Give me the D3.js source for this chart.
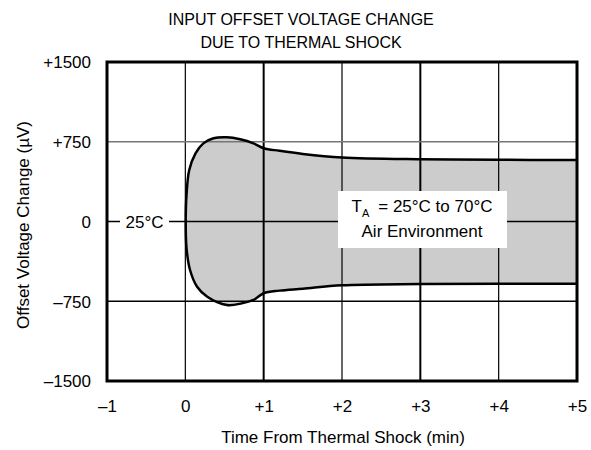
<!DOCTYPE html>
<html>
<head>
<meta charset="utf-8">
<script src="https://cdn.jsdelivr.net/npm/d3@7"></script>
<style>
  html, body { margin: 0; padding: 0; background: #fff; }
  svg text { font-family: "Liberation Sans", Arial, Helvetica, sans-serif; fill: #000; }
</style>
</head>
<body>
<svg id="chart" width="591" height="450"></svg>
<script>
// ---- Data ----
const titleLines = ["INPUT OFFSET VOLTAGE CHANGE", "DUE TO THERMAL SHOCK"];
const xTicks = [-1, 0, 1, 2, 3, 4, 5];
const xTickLabels = ["\u20131", "0", "+1", "+2", "+3", "+4", "+5"];
const yTicks = [1500, 750, 0, -750, -1500];
const yTickLabels = ["+1500", "+750", "0", "\u2013750", "\u20131500"];
const xTitle = "Time From Thermal Shock (min)";
const yTitle = "Offset Voltage Change (\u00B5V)";

// envelope: upper boundary (time in min, offset in µV), right to left
const upperTime  = [5, 4, 3, 2, 1.5, 1.2, 1.0, 0.87, 0.7, 0.53, 0.36, 0.23, 0.13, 0.05, 0.015, 0.005];
const upperValue = [578, 580, 585, 602, 635, 665, 689, 735, 773, 792, 783, 735, 641, 484, 250, 0];
// lower boundary, left to right
const lowerTime  = [0.015, 0.06, 0.15, 0.28, 0.53, 0.72, 0.87, 1.0, 1.2, 1.5, 2, 3, 4, 5];
const lowerValue = [-250, -456, -613, -707, -785, -770, -738, -675, -650, -632, -600, -588, -585, -585];

// ---- Layout ----
const svg = d3.select("#chart");
const pL = 107, pR = 577, pT = 62, pB = 381;
const FS = 17;
const x = d3.scaleLinear().domain([-1, 5]).range([pL, pR]);
const y = d3.scaleLinear().domain([-1500, 1500]).range([pB, pT]);

// title
svg.append("g").selectAll("text").data(titleLines).join("text")
  .attr("x", 301).attr("y", (d, i) => 25 + i * 23)
  .attr("text-anchor", "middle").attr("font-size", 16).text(d => d);

// envelope shape
const pts = upperTime.map((t, i) => [t, upperValue[i]])
  .concat(lowerTime.map((t, i) => [t, lowerValue[i]]));
const line = d3.line().x(d => x(d[0])).y(d => y(d[1])).curve(d3.curveCatmullRom.alpha(0.5));
svg.append("path")
  .attr("d", line(pts) + "Z")
  .attr("fill", "#cccccc").attr("stroke", "none");

// grid
const grid = svg.append("g");
const vStyles = { 0: 1.2, 1: 2, 2: 1.2, 3: 2, 4: 1.2 };
xTicks.filter(t => t > -1 && t < 5).forEach(t => {
  grid.append("line").attr("x1", x(t)).attr("x2", x(t)).attr("y1", pT).attr("y2", pB)
    .attr("stroke", "#000").attr("stroke-width", vStyles[t]);
});
yTicks.filter(v => v > -1500 && v < 1500).forEach(v => {
  grid.append("line").attr("x1", pL).attr("x2", pR).attr("y1", y(v)).attr("y2", y(v))
    .attr("stroke", v === 750 ? "#777" : "#000").attr("stroke-width", 1.3);
});

// outline
svg.append("path")
  .attr("d", line(pts))
  .attr("fill", "none").attr("stroke", "#000").attr("stroke-width", 2.5);

// frame
svg.append("rect").attr("x", pL).attr("y", pT).attr("width", pR - pL).attr("height", pB - pT)
  .attr("fill", "none").attr("stroke", "#000").attr("stroke-width", 3);

// axes (labels only)
const xAxis = d3.axisBottom(x).tickValues(xTicks).tickSize(0).tickPadding(0)
  .tickFormat((d, i) => xTickLabels[i]);
const gx = svg.append("g").attr("transform", `translate(0,${pB})`).call(xAxis);
gx.select(".domain").remove();
gx.selectAll("text").attr("font-size", FS).attr("dy", null).attr("y", 31)
  .style("font-family", "'Liberation Sans', Arial, sans-serif");

const yAxis = d3.axisLeft(y).tickValues(yTicks).tickSize(0).tickPadding(0)
  .tickFormat((d, i) => yTickLabels[i]);
const gy = svg.append("g").attr("transform", `translate(${pL},0)`).call(yAxis);
gy.select(".domain").remove();
gy.selectAll("text").attr("font-size", FS).attr("x", -16).attr("dy", "0.34em")
  .style("font-family", "'Liberation Sans', Arial, sans-serif");

// axis titles
svg.append("text").attr("x", 343).attr("y", 443).attr("text-anchor", "middle")
  .attr("font-size", FS).text(xTitle);
svg.append("text").attr("transform", "translate(29,225) rotate(-90)").attr("text-anchor", "middle")
  .attr("font-size", FS).text(yTitle);

// 25°C label on zero line
svg.append("rect").attr("x", 120).attr("y", y(0) - 10).attr("width", 49).attr("height", 20).attr("fill", "#fff");
svg.append("text").attr("x", 144.5).attr("y", y(0) + 6).attr("text-anchor", "middle")
  .attr("font-size", FS).text("25\u00B0C");

// annotation box
const box = svg.append("g");
box.append("rect").attr("x", 338).attr("y", 191).attr("width", 169).attr("height", 57).attr("fill", "#fff");
const t1 = box.append("text").attr("x", 422).attr("y", 212).attr("text-anchor", "middle").attr("font-size", FS);
t1.append("tspan").text("T");
t1.append("tspan").attr("font-size", 11).attr("dy", 5).text("A");
t1.append("tspan").attr("dy", -5).attr("dx", 9).text("= 25\u00B0C to 70\u00B0C");
box.append("text").attr("x", 422).attr("y", 237).attr("text-anchor", "middle").attr("font-size", FS)
  .text("Air Environment");
</script>
</body>
</html>
